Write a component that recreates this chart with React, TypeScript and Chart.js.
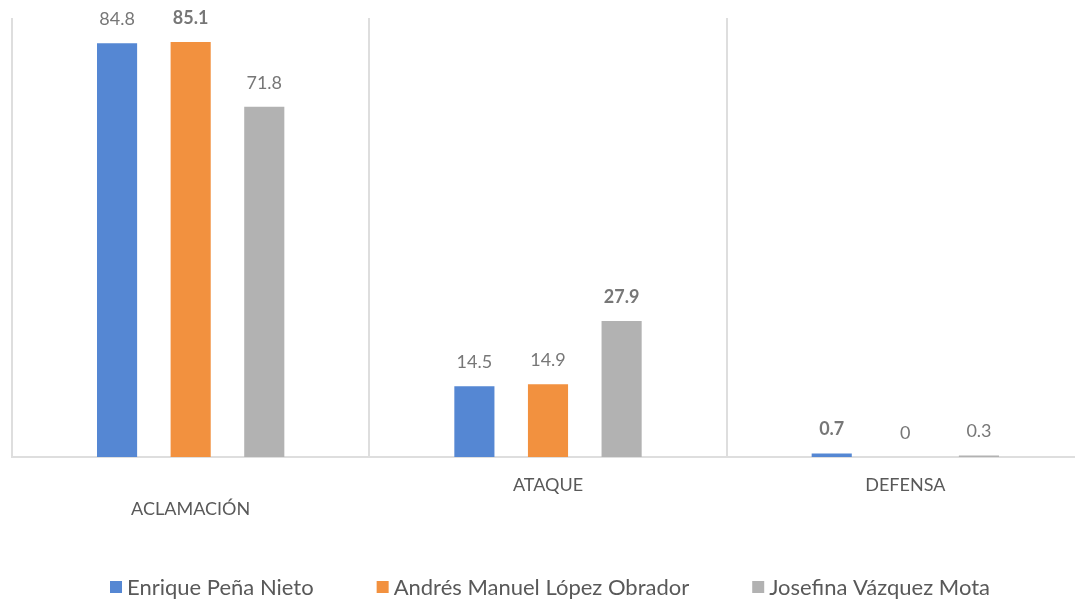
import React, { useEffect, useRef } from "react";
import { Chart, registerables } from "chart.js";

Chart.register(...registerables);

const categories: (string | string[])[] = [["", "ACLAMACIÓN"], "ATAQUE", "DEFENSA"];
const seriesNames = ["Enrique Peña Nieto", "Andrés Manuel López Obrador", "Josefina Vázquez Mota"];
const penaNieto = [84.8, 14.5, 0.7];
const lopezObrador = [85.1, 14.9, 0];
const vazquezMota = [71.8, 27.9, 0.3];
const seriesColors = ["#5587D3", "#F2913F", "#B2B2B2"];

const FONT = "Lato, 'Open Sans', sans-serif";

const valueLabelsPlugin = {
  id: "valueLabels",
  afterDatasetsDraw(chart: any) {
    const ctx = chart.ctx;
    const datasets = chart.data.datasets;
    const n = chart.data.labels.length;
    const maxes: number[] = [];
    for (let i = 0; i < n; i++) {
      maxes.push(Math.max(...datasets.map((d: any) => d.data[i])));
    }
    ctx.save();
    ctx.textAlign = "center";
    ctx.textBaseline = "middle";
    ctx.fillStyle = "#777777";
    datasets.forEach((ds: any, di: number) => {
      const meta = chart.getDatasetMeta(di);
      meta.data.forEach((bar: any, i: number) => {
        const v = ds.data[i];
        const bold = v === maxes[i];
        ctx.font = `${bold ? "bold " : ""}18px ${FONT}`;
        const txt = v === 0 ? "0" : v.toFixed(1);
        ctx.fillText(txt, bar.x, bar.y - 24);
      });
    });
    ctx.restore();
  },
};

const legendPlugin = {
  id: "customLegend",
  afterDraw(chart: any) {
    const ctx = chart.ctx;
    ctx.save();
    ctx.font = `22px ${FONT}`;
    ctx.textBaseline = "middle";
    ctx.textAlign = "left";
    const box = 12;
    const gapBoxText = 5;
    const gapItems = 63;
    const items = chart.data.datasets.map((d: any) => ({
      label: d.label,
      color: d.backgroundColor,
      w: box + gapBoxText + ctx.measureText(d.label).width,
    }));
    const total = items.reduce((s: number, it: any) => s + it.w, 0) + gapItems * (items.length - 1);
    let x = 550 - total / 2;
    const y = 588;
    items.forEach((it: any) => {
      ctx.fillStyle = it.color;
      ctx.fillRect(x, y - 7, box, box);
      ctx.fillStyle = "#595959";
      ctx.fillText(it.label, x + box + gapBoxText, y);
      x += it.w + gapItems;
    });
    ctx.restore();
  },
};

export default function App() {
  const canvasRef = useRef<HTMLCanvasElement | null>(null);

  useEffect(() => {
    if (!canvasRef.current) return;
    const data = [penaNieto, lopezObrador, vazquezMota];
    const chart = new Chart(canvasRef.current, {
      type: "bar",
      data: {
        labels: categories,
        datasets: seriesNames.map((name, i) => ({
          label: name,
          data: data[i],
          backgroundColor: seriesColors[i],
          borderWidth: 0,
          categoryPercentage: 0.618,
          barPercentage: 0.545,
        })),
      },
      options: {
        responsive: false,
        animation: false,
        layout: { padding: { top: 18, left: 12, right: 12, bottom: 63 } },
        plugins: {
          legend: { display: false },
          tooltip: { enabled: false },
        },
        scales: {
          x: {
            grid: { color: "#DEDEDE", lineWidth: 2, drawTicks: false, offset: true },
            border: { color: "#DEDEDE", width: 2 },
            ticks: {
              color: "#595959",
              font: { family: FONT, size: 18, lineHeight: "24px" },
              padding: 16,
              maxRotation: 0,
              autoSkip: false,
            },
          },
          y: {
            display: false,
            min: 0,
            max: 90,
          },
        },
      },
      plugins: [valueLabelsPlugin, legendPlugin],
    });
    return () => chart.destroy();
  }, []);

  return (
    <div style={{ position: "absolute", left: 0, top: 0, width: 1075, height: 600, overflow: "hidden", background: "#fff" }}>
      <canvas ref={canvasRef} width={1096} height={600} style={{ width: 1096, height: 600, display: "block" }} />
    </div>
  );
}
